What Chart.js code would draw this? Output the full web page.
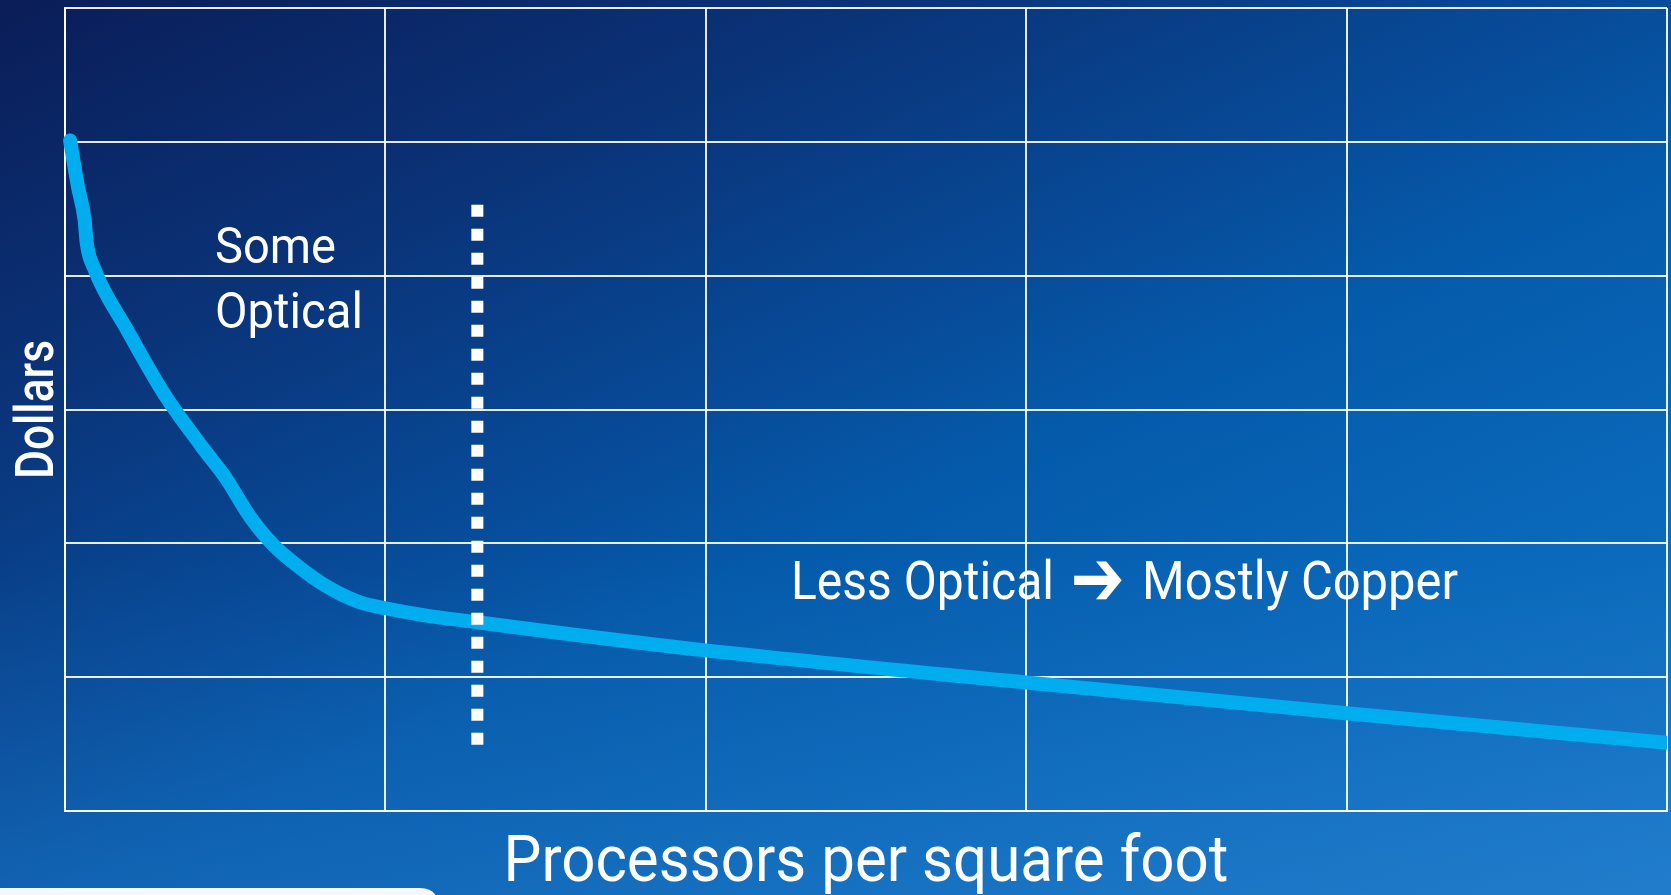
<!DOCTYPE html>
<html>
<head>
<meta charset="utf-8">
<title>Processors per square foot vs Dollars</title>
<script src="https://cdn.jsdelivr.net/npm/chart.js@4.4.1/dist/chart.umd.min.js"></script>
<style>
  html, body { margin: 0; padding: 0; overflow: hidden; background: #0a3f88; }
  #wrap { width: 1671px; height: 895px; position: relative; }
  canvas { display: block; }
</style>
</head>
<body>
<div id="wrap"><canvas id="chart" width="1671" height="895"></canvas></div>
<script>
// Cost curve: processors per square foot (x) against dollars (y)
const densityX = [0.016, 0.04, 0.061, 0.068, 0.09, 0.195, 0.311, 0.428, 0.504, 0.577, 0.649, 0.732, 0.816, 0.92, 1.0, 1.128, 1.289, 1.546, 2.0, 3.0, 4.0, 5.02];
const dollarsY = [5.01, 4.67, 4.42, 4.24, 4.06, 3.59, 3.11, 2.72, 2.48, 2.20, 1.99, 1.82, 1.68, 1.56, 1.515, 1.46, 1.41, 1.33, 1.2, 0.96, 0.73, 0.505];

// Dotted divider between the optical and copper regions
const dividerX = [1.287, 1.287];
const dividerY = [4.53, 0.49];

// Axis ranges (one grid line per unit, no tick labels)
const xRange = [0, 5];
const yRange = [0, 6];

// Text drawn on the chart
const xTitle = 'Processors per square foot';
const yTitle = 'Dollars';
const leftNote = ['Some', 'Optical'];
const rightNote = ['Less Optical', '\u2794', 'Mostly Copper'];

const curvePoints = densityX.map((x, i) => ({ x, y: dollarsY[i] }));
const dividerPoints = dividerX.map((x, i) => ({ x, y: dividerY[i] }));

const FONT = 'Roboto, "Noto Sans", "DejaVu Sans", sans-serif';

const backdrop = {
  id: 'backdrop',
  beforeDraw(chart) {
    const { ctx, width, height } = chart;
    ctx.save();
    const g = ctx.createLinearGradient(0, 0, 623, 1371);
    g.addColorStop(0, '#0a1d58');
    g.addColorStop(0.25, '#0a3479');
    g.addColorStop(0.45, '#074c9a');
    g.addColorStop(0.55, '#055aaa');
    g.addColorStop(0.75, '#0a68ba');
    g.addColorStop(1, '#1877c8');
    ctx.fillStyle = g;
    ctx.fillRect(0, 0, width, height);
    // soft lighter haze toward the lower edge
    const h = ctx.createLinearGradient(0, 560, 0, height);
    h.addColorStop(0, 'rgba(90,160,230,0)');
    h.addColorStop(1, 'rgba(90,160,230,0.14)');
    ctx.fillStyle = h;
    ctx.fillRect(0, 560, width, height - 560);
    // white tab along the lower-left edge
    ctx.fillStyle = '#f5f7fa';
    ctx.beginPath();
    ctx.moveTo(0, 888);
    ctx.lineTo(420, 888);
    ctx.quadraticCurveTo(434, 888, 438, 900);
    ctx.lineTo(0, 900);
    ctx.closePath();
    ctx.fill();
    ctx.restore();
  }
};

const labels = {
  id: 'labels',
  afterDatasetsDraw(chart) {
    const { ctx, chartArea: a } = chart;
    ctx.save();
    ctx.fillStyle = '#ffffff';
    ctx.textBaseline = 'alphabetic';

    // y axis title, rotated
    ctx.save();
    ctx.translate(a.left - 12, (a.top + a.bottom) / 2);
    ctx.rotate(-Math.PI / 2);
    ctx.textAlign = 'center';
    ctx.font = '500 53px ' + FONT;
    ctx.fillText(yTitle, 0, 0, 139);
    ctx.restore();

    // x axis title
    ctx.textAlign = 'center';
    ctx.font = '64px ' + FONT;
    ctx.fillText(xTitle, 866, a.bottom + 70, 725);

    // region notes
    ctx.textAlign = 'left';
    ctx.font = '50px ' + FONT;
    ctx.fillText(leftNote[0], a.left + 150, a.top + 255, 121);
    ctx.fillText(leftNote[1], a.left + 150, a.top + 320, 148);

    const base = a.top + 591;
    ctx.font = '54px ' + FONT;
    ctx.fillText(rightNote[0], a.left + 726, base, 263);
    ctx.textAlign = 'right';
    ctx.fillText(rightNote[2], a.left + 1393, base, 316);

    // arrow glyph sized to its slot between the two phrases
    ctx.textAlign = 'left';
    ctx.font = '54px "DejaVu Sans", sans-serif';
    const m = ctx.measureText(rightNote[1]);
    const gw = m.actualBoundingBoxRight + m.actualBoundingBoxLeft;
    const gh = m.actualBoundingBoxAscent + m.actualBoundingBoxDescent;
    ctx.save();
    ctx.translate(a.left + 1009, base - 19);
    ctx.scale(48 / gw, 38 / gh);
    ctx.fillText(rightNote[1], m.actualBoundingBoxLeft, (m.actualBoundingBoxAscent - m.actualBoundingBoxDescent) / 2);
    ctx.restore();
    ctx.restore();
  }
};

new Chart(document.getElementById('chart'), {
  type: 'line',
  data: {
    datasets: [
      {
        label: 'Divider',
        data: dividerPoints,
        borderColor: '#ffffff',
        borderWidth: 12,
        borderDash: [12, 12],
        borderCapStyle: 'butt',
        pointRadius: 0,
        order: 0
      },
      {
        label: 'Cost',
        data: curvePoints,
        borderColor: '#00aeef',
        borderWidth: 14,
        borderCapStyle: 'round',
        borderJoinStyle: 'round',
        cubicInterpolationMode: 'monotone',
        pointRadius: 0,
        clip: { left: 10, top: 10, right: 0, bottom: 0 },
        order: 1
      }
    ]
  },
  options: {
    responsive: false,
    animation: false,
    devicePixelRatio: 1,
    layout: { padding: { left: 65, top: 8, right: 4, bottom: 84 } },
    plugins: { legend: { display: false }, tooltip: { enabled: false } },
    scales: {
      x: {
        type: 'linear',
        min: xRange[0], max: xRange[1],
        ticks: { display: false, stepSize: 1 },
        grid: { color: 'rgba(255,255,255,0.9)', lineWidth: 2, drawTicks: false },
        border: { display: true, color: 'rgba(255,255,255,0.9)', width: 2 }
      },
      y: {
        type: 'linear',
        min: yRange[0], max: yRange[1],
        ticks: { display: false, stepSize: 1 },
        grid: { color: 'rgba(255,255,255,0.9)', lineWidth: 2, drawTicks: false },
        border: { display: true, color: 'rgba(255,255,255,0.9)', width: 2 }
      }
    }
  },
  plugins: [backdrop, labels]
});
</script>
</body>
</html>
